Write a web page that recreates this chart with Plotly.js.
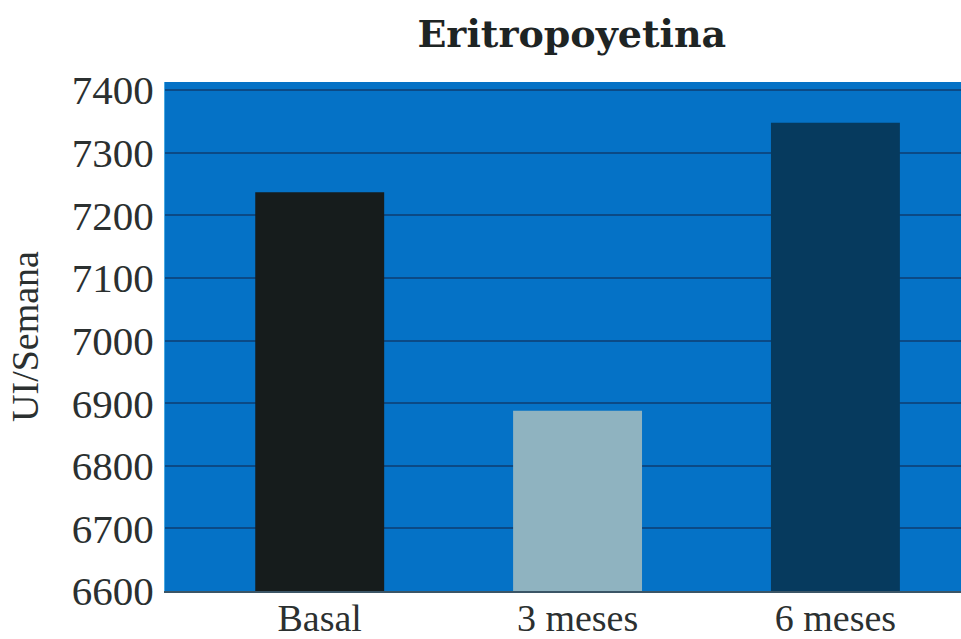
<!DOCTYPE html>
<html>
<head>
<meta charset="utf-8">
<script src="https://cdn.plot.ly/plotly-3.0.1.min.js"></script>
<style>
  html, body { margin: 0; padding: 0; background: #ffffff; }
  #chart { width: 961px; height: 639px; }
</style>
</head>
<body>
<div id="chart"></div>
<script>
// Eritropoyetina: dosis semanal (UI/Semana) en tres momentos
const categories = ["Basal", "3 meses", "6 meses"];
const dosis = [7237, 6888, 7348];
const barColors = ["#161c1c", "#8fb3c0", "#063a5e"];
const yTicks = [6600, 6700, 6800, 6900, 7000, 7100, 7200, 7300, 7400];
const yFloor = 6600;

const textColor = "#2b3030";

// bars start at the axis floor, so plot the height above it
const trace = {
  type: "bar",
  x: categories,
  y: dosis.map(v => v - yFloor),
  base: yFloor,
  width: 0.5,
  marker: { color: barColors, line: { width: 0 } },
  customdata: dosis,
  hovertemplate: "%{x}: %{customdata}<extra></extra>"
};

const layout = {
  width: 961,
  height: 639,
  margin: { l: 165, r: 0, t: 82, b: 48 },
  paper_bgcolor: "#ffffff",
  plot_bgcolor: "#0572c6",
  showlegend: false,
  title: {
    text: "<b>Eritropoyetina</b>",
    font: { family: "DejaVu Serif", size: 38, color: "#1e2424" },
    xref: "container",
    x: 0.595,
    xanchor: "center",
    y: 0.948,
    yanchor: "middle"
  },
  xaxis: {
    type: "category",
    range: [-0.6, 2.487],
    showgrid: false,
    showline: true,
    linecolor: "#3b5566",
    linewidth: 2,
    ticks: "",
    ticklabelstandoff: -8,
    tickfont: { family: "Liberation Serif", size: 38, color: textColor },
    fixedrange: true
  },
  yaxis: {
    range: [yFloor, 7413],
    tickmode: "array",
    tickvals: yTicks,
    ticktext: yTicks.map(String),
    showgrid: true,
    gridcolor: "#0b4a86",
    gridwidth: 2,
    zeroline: false,
    showline: true,
    linecolor: "#4aa8e0",
    linewidth: 1,
    ticks: "",
    ticklabelstandoff: 2,
    tickfont: { family: "Liberation Serif", size: 41, color: textColor },
    title: {
      text: "UI/Semana",
      font: { family: "Liberation Serif", size: 38, color: textColor },
      standoff: 21
    },
    automargin: false,
    fixedrange: true
  }
};

Plotly.newPlot("chart", [trace], layout, { displayModeBar: false, staticPlot: true });
</script>
</body>
</html>
